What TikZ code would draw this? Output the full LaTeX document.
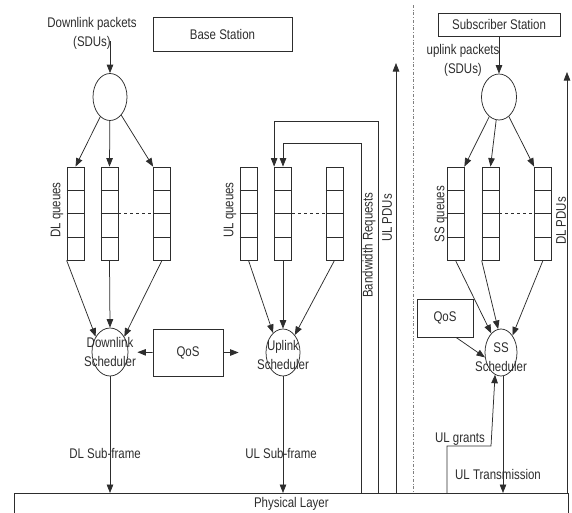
\documentclass[tikz,border=0pt]{standalone}
\usepackage{fontspec}
\setmainfont[FakeStretch=0.82]{Liberation Sans}
\usetikzlibrary{arrows.meta, shapes.geometric, calc}
\definecolor{inkgray}{RGB}{45,45,45}
\tikzset{every node/.append style={align=center, text=inkgray,
                                   font=\fontsize{14}{19}\selectfont}}
\tikzset{
  wire/.style={draw=inkgray, line width=0.75pt},
  arr/.style={wire, -{Triangle[length=8.5pt,width=6.5pt]}},
  box/.style={wire, rectangle, inner sep=0pt},
  queue/.style={box, minimum width=17pt, minimum height=93pt},
  blob/.style={wire, ellipse, inner sep=0pt},
}

\begin{document}
\begin{tikzpicture}[x=1pt,y=-1pt]
\useasboundingbox (0,0) rectangle (572,512);

% ── Station titles and incoming packets ───────────────────────────────────────
\node[box, minimum width=139pt, minimum height=34pt] (bs) at (222.5,34) {Base Station};
\node[box, minimum width=122pt, minimum height=23pt] (ss) at (499,24.5) {Subscriber Station};
\node (dlpk) at (92,33.5) {Downlink packets\\(SDUs)};
\node (ulpk) at (463,60) {uplink packets\\(SDUs)};

\node[blob, minimum width=34pt, minimum height=47pt] (dlcls) at (110,97) {};
\node[blob, minimum width=35pt, minimum height=46pt] (sscls) at (499,97) {};
\coordinate (dlin) at (110,41);
\draw[arr] (dlin) -- (dlcls.north);
\draw[arr] (ss.south) -- (sscls.north);

% ── Queues ───────────────────────────────────────────────────────────────────
\foreach \q/\x in {dlq1/75.5, dlq2/109.5, dlq3/162, ulq1/248.5, ulq2/283,
                   ulq3/334.5, ssq1/455.5, ssq2/490.5, ssq3/543} {
  \node[queue] (\q) at (\x,213.5) {};
  \foreach \f in {0.25,0.5,0.75}
    \draw[wire] ($(\q.north west)!\f!(\q.south west)$)
             -- ($(\q.north east)!\f!(\q.south east)$);
}
\foreach \a/\b in {dlq2/dlq3, ulq2/ulq3, ssq2/ssq3}
  \draw[wire, dashed] (\a.east) -- (\b.west);

\node[rotate=90] (dllbl) at (57,210) {DL queues};
\node[rotate=90] (ullbl) at (230,210) {UL queues};
\node[rotate=90] (sslbl) at (441,214) {SS queues};

% classifier -> queues
\foreach \s/\t in {dlcls/dlq1.north, dlcls/dlq2.north, dlcls/dlq3.north west,
                   sscls/ssq1.north east, sscls/ssq2.north, sscls/ssq3.north west}
  \draw[arr] (\s) -- (\t);

% ── Schedulers ───────────────────────────────────────────────────────────────
\node[blob, minimum width=36pt, minimum height=48pt] (dlsch) at (110,352) {};
\node (dlscht) at (110,352) {Downlink\\Scheduler};
\node[blob, minimum width=34pt, minimum height=47pt] (ulsch) at (283,352.5) {};
\node (ulscht) at (283,355) {Uplink\\Scheduler};
\node[blob, minimum width=32pt, minimum height=47pt] (sssch) at (501,352.5) {};
\node (ssscht) at (501,357) {SS\\Scheduler};

% queues -> schedulers
\foreach \s/\t in {dlq1.south west/dlsch.133, dlq2.south/dlsch.north, dlq3.south/dlsch.47,
                   ulq1.south/ulsch.117, ulq2.south/ulsch.north, ulq3.south/ulsch.56,
                   ssq1.south/sssch.117, ssq2.south west/sssch.97, ssq3.south/sssch.56}
  \draw[arr] (\s) -- (\t);

% QoS boxes
\node[box, minimum width=70pt, minimum height=47pt] (qosbs) at (188,352.5) {QoS};
\draw[arr, shorten >=9pt] (qosbs.west) -- (dlsch.east);
\draw[arr, shorten >=27pt] (qosbs.east) -- (ulsch.west);
\node[box, minimum width=56pt, minimum height=38pt] (qosss) at (445,318) {QoS};
\draw[arr] ([xshift=11pt]qosss.south) -- (sssch.197);

% ── Physical layer and sub-frames ────────────────────────────────────────────
\node[box, anchor=north west, minimum width=554pt, minimum height=21pt] (phy)
      at (14,493) {Physical Layer};

\draw[arr] (dlsch.south) -- (dlsch.south |- phy.north);
\draw[arr] (ulsch.south) -- (ulsch.south |- phy.north);
\draw[arr] ([xshift=2pt]sssch.south) -- ([xshift=2pt]sssch.south |- phy.north);
\node (dlsf) at (105,453) {DL Sub-frame};
\node (ulsf) at (281,453) {UL Sub-frame};
\node (ultx) at (498,474) {UL Transmission};

% UL grants back to SS scheduler
\coordinate (ulg) at (447,446);
\coordinate (ulgturn) at (491,446);
\draw[arr] (ulg |- phy.north) -- (ulg) -- (ulgturn) -- (sssch.255);
\node (ulgr) at (460,439) {UL grants};

% Bandwidth requests to UL queues
\coordinate (bwout) at (378,121);
\coordinate (bwin) at (361,143);
\draw[arr] (bwout |- phy.north) -- (bwout) -| (ulq2.north west);
\draw[arr] (bwin |- phy.north) -- (bwin) -| (ulq2.north);
\node[rotate=90] (bwlbl) at (369,245) {Bandwidth Requests};

% PDUs going up
\coordinate (ulpdu) at (396,63);
\coordinate (dlpdu) at (567,72);
\draw[arr] (ulpdu |- phy.north) -- (ulpdu);
\draw[arr] (dlpdu |- phy.north) -- (dlpdu);
\node[rotate=90] (ulpdulbl) at (387,218) {UL PDUs};
\node[rotate=90] (dlpdulbl) at (561,221) {DL PDUs};

% BS / SS divider
\coordinate (divtop) at (413,5);
\draw[gray, dash dot, line width=0.6pt] (divtop) -- (divtop |- phy.north);

\end{tikzpicture}
\end{document}
